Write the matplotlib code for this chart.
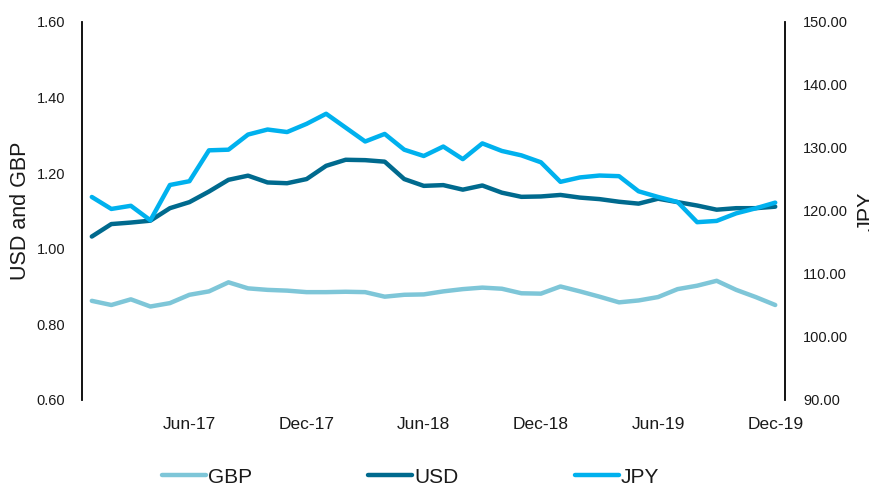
import numpy as np
import pandas as pd
import matplotlib
matplotlib.use("Agg")
import matplotlib.pyplot as plt

plt.rcParams['font.family'] = ['Liberation Sans', 'DejaVu Sans']

# Monthly data, Jan-17 to Dec-19
months = pd.date_range('2017-01-01', '2019-12-01', freq='MS').strftime('%b-%y').tolist()

gbp = [0.862, 0.851, 0.866, 0.847, 0.856, 0.878, 0.887, 0.911, 0.895, 0.891,
       0.889, 0.885, 0.885, 0.886, 0.885, 0.873, 0.878, 0.879, 0.887, 0.893,
       0.897, 0.894, 0.882, 0.881, 0.900, 0.887, 0.873, 0.858, 0.863, 0.872,
       0.893, 0.902, 0.915, 0.891, 0.872, 0.851]

usd = [1.032, 1.065, 1.069, 1.074, 1.107, 1.123, 1.151, 1.182, 1.193, 1.175,
       1.173, 1.184, 1.219, 1.235, 1.234, 1.230, 1.184, 1.166, 1.168, 1.156,
       1.167, 1.148, 1.137, 1.138, 1.142, 1.135, 1.131, 1.124, 1.119, 1.132,
       1.123, 1.114, 1.103, 1.107, 1.107, 1.111]

jpy = [122.2, 120.3, 120.8, 118.5, 124.1, 124.7, 129.6, 129.7, 132.1, 132.9,
       132.5, 133.8, 135.4, 133.2, 131.0, 132.2, 129.7, 128.7, 130.2, 128.2,
       130.7, 129.5, 128.8, 127.7, 124.6, 125.3, 125.6, 125.5, 123.1, 122.2,
       121.4, 118.2, 118.4, 119.6, 120.4, 121.3]

tick_labels = ['Jun-17', 'Dec-17', 'Jun-18', 'Dec-18', 'Jun-19', 'Dec-19']
tick_pos = [months.index(t) for t in tick_labels]

c_gbp = '#7EC6D8'
c_usd = '#006A8E'
c_jpy = '#00B1EE'
txt = '#1a1a1a'

fig = plt.figure(figsize=(8.7, 4.83), dpi=100)
ax = fig.add_axes([0.0943, 0.172, 0.808, 0.783])
ax2 = ax.twinx()

x = np.arange(len(months))
l1, = ax.plot(x, gbp, color=c_gbp, lw=3.2, label='GBP', solid_capstyle='round')
l2, = ax.plot(x, usd, color=c_usd, lw=3.2, label='USD', solid_capstyle='round')
l3, = ax2.plot(x, jpy, color=c_jpy, lw=3.2, label='JPY', solid_capstyle='round')

ax.set_xlim(-0.5, len(months) - 0.5)
ax.set_ylim(0.6, 1.6)
ax.set_yticks(np.arange(0.6, 1.61, 0.2))
ax.set_yticklabels([f'{v:.2f}' for v in np.arange(0.6, 1.61, 0.2)])
ax2.set_ylim(90, 150)
ax2.set_yticks(np.arange(90, 151, 10))
ax2.set_yticklabels([f'{v:.2f}' for v in np.arange(90, 151, 10)])

ax.set_xticks(tick_pos)
ax.set_xticklabels(tick_labels)

for a in (ax, ax2):
    a.spines['top'].set_visible(False)
    a.spines['bottom'].set_visible(False)
    a.spines['left'].set_linewidth(1.3)
    a.spines['right'].set_linewidth(1.3)
ax.spines['right'].set_visible(False)
ax2.spines['left'].set_visible(False)

ax.tick_params(axis='x', length=0, pad=12, labelsize=12.5, colors=txt)
ax.tick_params(axis='y', length=0, pad=12, labelsize=10.5, colors=txt)
ax2.tick_params(axis='y', length=0, pad=13, labelsize=10.5, colors=txt)

ax.set_ylabel('USD and GBP', fontsize=15.5, color=txt, labelpad=4)
ax2.set_ylabel('JPY', fontsize=15.5, color=txt, labelpad=6)

fig.legend(handles=[l1, l2, l3], loc='center', bbox_to_anchor=(0.472, 0.012),
           ncol=3, frameon=False, fontsize=15, handlelength=2.1,
           handletextpad=0.1, columnspacing=5.6, labelcolor=txt)

fig.savefig('out.png', dpi=100)
